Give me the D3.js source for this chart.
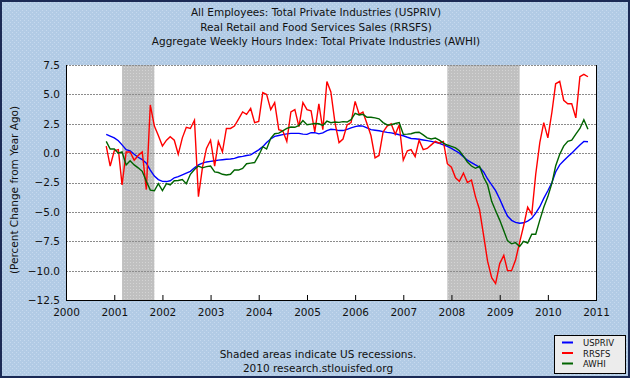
<!DOCTYPE html>
<html><head><meta charset="utf-8">
<script src="https://cdn.jsdelivr.net/npm/d3@7/dist/d3.min.js"></script>
<style>html,body{margin:0;padding:0;background:#fff}svg{display:block}</style>
</head><body>
<svg id="chart" width="630" height="378"></svg>
<script>
// ---------- data ----------
const titleLines = [
  "All Employees: Total Private Industries (USPRIV)",
  "Real Retail and Food Services Sales (RRSFS)",
  "Aggregate Weekly Hours Index: Total Private Industries (AWHI)"
];
const yAxisTitle = "(Percent Change from Year Ago)";
const footerLines = ["Shaded areas indicate US recessions.", "2010 research.stlouisfed.org"];
const seriesNames = ["USPRIV", "RRSFS", "AWHI"];
const firstMonth = "2000-11-01"; // monthly observations start here

const usprivValues = [
  1.6, 1.45, 1.3, 1.05, 0.7, 0.3, 0.2, -0.1, -0.35, -0.55, -0.85, -1.45, -1.95, -2.25, -2.4, -2.42,
  -2.35, -2.1, -2.0, -1.85, -1.7, -1.55, -1.25, -1.0, -0.85, -0.75, -0.7, -0.65, -0.6, -0.56, -0.52, -0.5,
  -0.45, -0.33, -0.28, -0.2, -0.15, 0.07, 0.28, 0.55, 0.9, 1.2, 1.43, 1.5, 1.57, 1.64, 1.68, 1.68,
  1.68, 1.62, 1.6, 1.74, 1.74, 1.64, 1.72, 1.92, 2.03, 2.0, 1.92, 1.92, 2.02, 2.15, 2.25, 2.33,
  2.3, 2.15, 2.0, 1.95, 1.9, 1.83, 1.77, 1.72, 1.65, 1.56, 1.48, 1.35, 1.25, 1.22, 1.18, 1.12,
  1.06, 1.0, 0.92, 0.84, 0.7, 0.57, 0.4, 0.2, 0.0, -0.3, -0.6, -0.8, -1.0, -1.2, -1.6, -2.2,
  -2.7, -3.2, -3.9, -4.7, -5.35, -5.72, -5.9, -5.97, -5.93, -5.78, -5.55, -5.1, -4.56, -3.85, -3.2, -2.5,
  -1.6, -1.0, -0.65, -0.3, 0.0, 0.35, 0.7, 1.0, 0.97
];
const rrsfsValues = [
  0.6, -1.1, 0.2, 0.3, -2.7, 0.1, 0.1, -0.6, -0.2, 0.1, -3.1, 4.1, 2.3, 1.5, 0.6, 1.1,
  1.4, 1.1, -0.1, 1.3, 2.2, 2.1, 2.8, -3.7, -1.2, 0.4, 1.1, -1.1, 1.0, 0.1, 2.1, 2.1,
  2.3, 2.9, 3.5, 3.3, 3.8, 2.6, 2.7, 5.15, 5.0, 3.7, 4.3, 2.0, 1.9, 1.0, 3.5, 3.7,
  2.25, 4.3, 3.7, 3.6, 1.8, 4.2, 2.0, 6.1, 5.2, 2.6, 0.9, 1.2, 2.4, 2.6, 4.4, 3.3,
  3.5, 2.5, 1.5, -0.4, -0.2, 1.8, 2.3, 2.5, 1.6, 2.4, -0.6, 0.2, 0.3, -0.3, 1.1, 0.3,
  0.4, 0.7, 1.0, 0.85, 1.0, -0.9, -1.2, -2.1, -2.4, -1.7, -2.5, -2.3, -3.7, -4.8, -7.0, -9.2,
  -10.6, -11.1, -9.4, -8.7, -10.0, -10.0, -9.1, -7.6, -6.2, -4.6, -5.2, -1.8, 0.9, 2.6, 1.3, 3.5,
  5.9, 6.1, 4.5, 4.2, 4.2, 3.0, 6.5, 6.7, 6.5
];
const awhiValues = [
  1.0, 0.35, 0.35, 0.0, 0.1, -1.0, -0.65, -1.0, -1.25, -1.55, -2.4, -3.15, -3.2, -2.6, -3.2, -2.6,
  -2.7, -2.35, -2.33, -2.25, -2.6, -1.8, -1.4, -1.1, -1.25, -1.15, -1.1, -1.6, -1.65, -1.8, -1.86, -1.8,
  -1.44, -1.44, -1.3, -0.9, -0.85, -0.8, -0.2, 0.55, 0.35, 1.26, 1.65, 1.7, 1.9, 2.1, 2.22, 2.2,
  2.35, 2.78, 2.42, 2.47, 2.52, 2.5, 2.35, 2.72, 2.59, 2.65, 2.62, 2.68, 2.65, 2.85, 3.38, 3.25,
  3.3, 3.05, 3.05, 3.0, 2.92, 2.6, 2.4, 2.42, 2.52, 2.6, 1.6, 1.62, 1.65, 1.75, 1.78, 1.55,
  1.3, 1.2, 1.28, 1.1, 0.85, 0.69, 0.58, 0.45, 0.2, -0.25, -0.75, -1.1, -1.29, -1.12, -2.05, -2.7,
  -4.1, -4.9, -5.7, -6.6, -7.45, -7.72, -7.62, -7.95, -7.5, -7.65, -6.9, -6.9, -5.7, -4.6, -3.7, -2.55,
  -1.1, -0.1, 0.6, 1.0, 1.1, 1.62, 2.1, 2.85, 2.03
];
const yTickValues = [7.5, 5.0, 2.5, 0.0, -2.5, -5.0, -7.5, -10.0, -12.5];
const xTickYears = [2000, 2001, 2002, 2003, 2004, 2005, 2006, 2007, 2008, 2009, 2010, 2011];
const recessionStarts = ["2001-03-01", "2007-12-01"];
const recessionEnds = ["2001-11-01", "2009-06-01"];

// ---------- styles ----------
const colors = { USPRIV: "#0000ff", RRSFS: "#ff0000", AWHI: "#006400" };
const FONT = "'DejaVu Sans', Verdana, sans-serif";

// ---------- build ----------
const svg = d3.select("#chart");
const W = 630, H = 378;
const plot = { left: 66, right: 596, top: 65, bottom: 300 };

// textures
const defs = svg.append("defs");
const bgPat = defs.append("pattern").attr("id", "bgpat").attr("patternUnits", "userSpaceOnUse")
  .attr("width", 4).attr("height", 4);
bgPat.append("rect").attr("width", 4).attr("height", 4).attr("fill", "#b2cbe5");
bgPat.append("rect").attr("x", 0).attr("y", 0).attr("width", 1).attr("height", 1).attr("fill", "#c6d9ee");
bgPat.append("rect").attr("x", 2).attr("y", 2).attr("width", 1).attr("height", 1).attr("fill", "#c6d9ee");
const shPat = defs.append("pattern").attr("id", "shpat").attr("patternUnits", "userSpaceOnUse")
  .attr("width", 3).attr("height", 3);
shPat.append("rect").attr("width", 3).attr("height", 3).attr("fill", "#c0c0c0");
shPat.append("rect").attr("x", 1).attr("y", 1).attr("width", 1).attr("height", 1).attr("fill", "#d4d4d4");

const parse = d3.utcParse("%Y-%m-%d");
const x = d3.scaleUtc()
  .domain([Date.UTC(2000, 0, 1), Date.UTC(2011, 0, 1)])
  .range([plot.left, plot.right]);
const y = d3.scaleLinear().domain([-12.5, 7.5]).range([plot.bottom, plot.top]);

const start = parse(firstMonth);
const toPoints = vals => vals.map((v, i) => ({ date: d3.utcMonth.offset(start, i), value: v }));
const series = [
  { name: "USPRIV", points: toPoints(usprivValues) },
  { name: "RRSFS", points: toPoints(rrsfsValues) },
  { name: "AWHI", points: toPoints(awhiValues) }
];

// background
svg.append("rect").attr("x", 0).attr("y", 0).attr("width", W).attr("height", H)
  .attr("fill", "url(#bgpat)");
svg.append("rect").attr("x", 1).attr("y", 1).attr("width", W - 2).attr("height", H - 2)
  .attr("fill", "none").attr("stroke", "#1b2a55").attr("stroke-width", 2);

// titles
svg.append("g").selectAll("text").data(titleLines).join("text")
  .attr("x", 316).attr("y", (d, i) => 16 + i * 14.5)
  .attr("text-anchor", "middle").attr("font-family", FONT).attr("font-size", 10.5)
  .attr("fill", "#111").text(d => d);

// plot area
svg.append("rect").attr("x", plot.left).attr("y", plot.top)
  .attr("width", plot.right - plot.left).attr("height", plot.bottom - plot.top)
  .attr("fill", "#ffffff");

// recessions
svg.append("g").selectAll("rect").data(recessionStarts).join("rect")
  .attr("x", (d) => x(parse(d)))
  .attr("width", (d, i) => x(parse(recessionEnds[i])) - x(parse(d)))
  .attr("y", plot.top).attr("height", plot.bottom - plot.top)
  .attr("fill", "url(#shpat)");

// grid lines
svg.append("g").selectAll("line").data(yTickValues.filter(v => v > -12.5)).join("line")
  .attr("x1", plot.left).attr("x2", plot.right)
  .attr("y1", d => Math.round(y(d)) + 0.5).attr("y2", d => Math.round(y(d)) + 0.5)
  .attr("stroke", "#8c8c8c").attr("stroke-width", 1).attr("stroke-dasharray", "2,1");

// y axis labels
const yAxis = d3.axisLeft(y).tickValues(yTickValues).tickFormat(d3.format(".1f")).tickSize(0).tickPadding(6);
const gy = svg.append("g").attr("transform", `translate(${plot.left},0)`).call(yAxis);
gy.select(".domain").remove();
gy.selectAll("text").attr("font-family", FONT).attr("font-size", 10.5).attr("fill", "#111");

// x axis (ticks inward)
const xAxis = d3.axisBottom(x)
  .tickValues(xTickYears.map(yr => new Date(Date.UTC(yr, 0, 1))))
  .tickFormat(d3.utcFormat("%Y")).tickSize(0).tickPadding(9);
const gx = svg.append("g").attr("transform", `translate(0,${plot.bottom})`).call(xAxis);
gx.select(".domain").remove();
gx.selectAll("text").attr("font-family", FONT).attr("font-size", 10.5).attr("fill", "#111");
gx.selectAll(".tick").append("line").attr("y1", 0).attr("y2", -5)
  .attr("stroke", "#000").attr("stroke-width", 1);

// frame lines
svg.append("line").attr("x1", plot.left + 0.5).attr("x2", plot.left + 0.5)
  .attr("y1", plot.top).attr("y2", plot.bottom + 1).attr("stroke", "#000");
svg.append("line").attr("x1", plot.left).attr("x2", plot.right + 1)
  .attr("y1", plot.bottom + 0.5).attr("y2", plot.bottom + 0.5).attr("stroke", "#000");
svg.append("line").attr("x1", plot.right + 0.5).attr("x2", plot.right + 0.5)
  .attr("y1", plot.top).attr("y2", plot.bottom + 1).attr("stroke", "#000");

// series lines
const line = d3.line().x(d => x(d.date)).y(d => y(d.value));
svg.append("g").selectAll("path").data(series).join("path")
  .attr("d", d => line(d.points))
  .attr("fill", "none").attr("stroke", d => colors[d.name])
  .attr("stroke-width", 1.4).attr("stroke-linejoin", "miter");

// y axis title
svg.append("text").attr("transform", "translate(18,190) rotate(-90)")
  .attr("text-anchor", "middle").attr("font-family", FONT).attr("font-size", 10.5)
  .attr("fill", "#111").text(yAxisTitle);

// footer
svg.append("g").selectAll("text").data(footerLines).join("text")
  .attr("x", 318).attr("y", (d, i) => 358 + i * 14)
  .attr("text-anchor", "middle").attr("font-family", FONT).attr("font-size", 10.5)
  .attr("fill", "#111").text(d => d);

// legend
const lg = svg.append("g");
lg.append("rect").attr("x", 554.5).attr("y", 335.5).attr("width", 71).attr("height", 38)
  .attr("fill", "#ececec").attr("stroke", "#000");
const items = lg.selectAll("g").data(seriesNames).join("g")
  .attr("transform", (d, i) => `translate(0,${342.5 + i * 10.5})`);
items.append("line").attr("x1", 562).attr("x2", 573).attr("y1", 0).attr("y2", 0)
  .attr("stroke", d => colors[d]).attr("stroke-width", 2);
items.append("text").attr("x", 583).attr("y", 3.5).attr("font-family", FONT)
  .attr("font-size", 8.5).attr("fill", "#111").text(d => d);
</script>
</body></html>
